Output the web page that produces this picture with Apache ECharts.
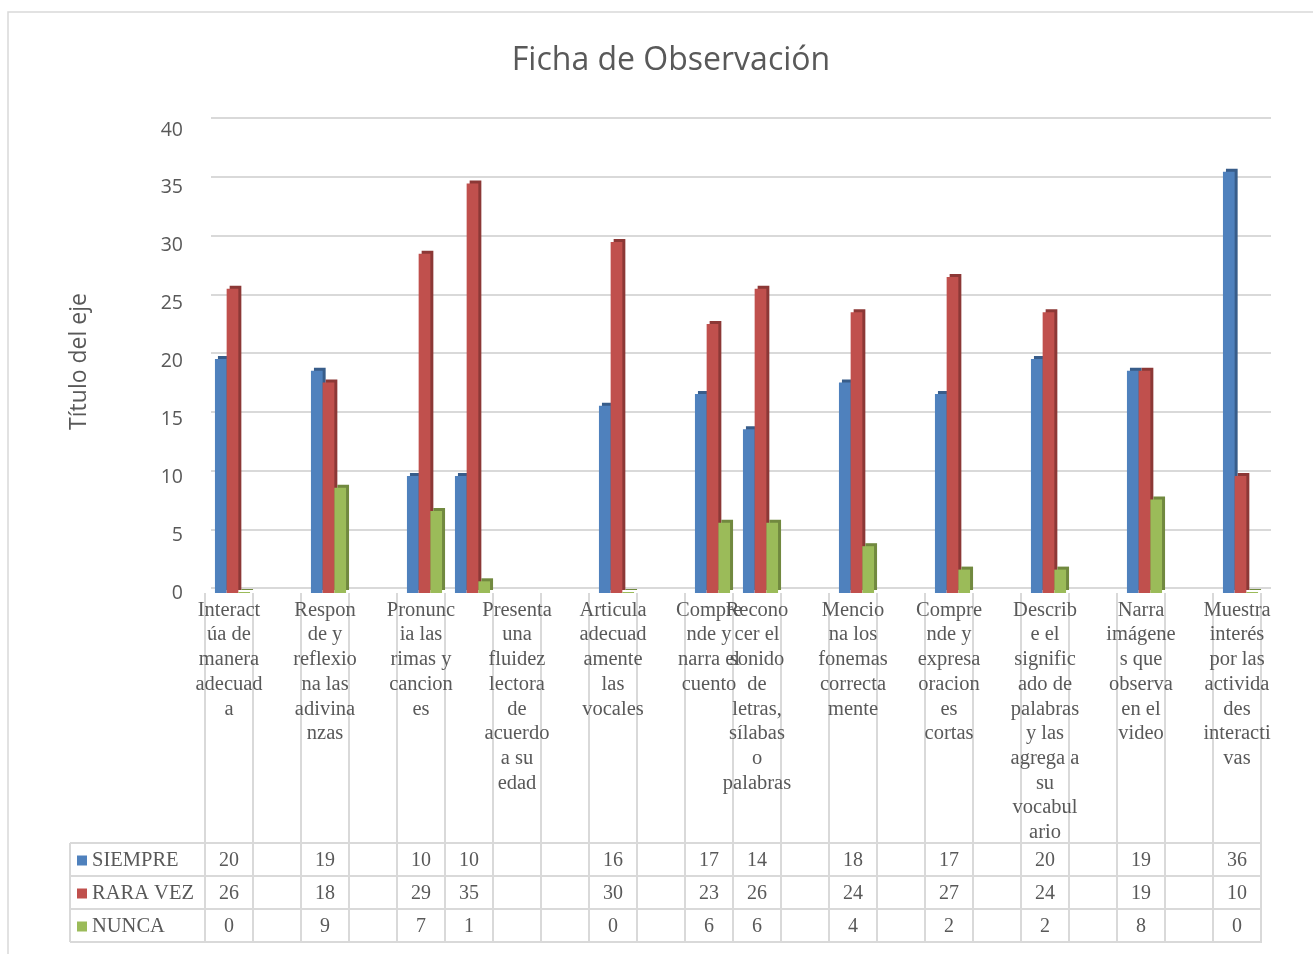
<!DOCTYPE html>
<html>
<head>
<meta charset="utf-8">
<script src="https://cdn.jsdelivr.net/npm/echarts@6/dist/echarts.min.js"></script>
<style>
  html, body { margin: 0; padding: 0; background: #fff; }
  #chart { width: 1313px; height: 954px; }
</style>
</head>
<body>
<div id="chart"></div>
<script>
// category slots as laid out in the original sheet (blank slots kept)
const categories = [
  "Interact\núa de\nmanera\nadecuad\na", "",
  "Respon\nde y\nreflexio\nna las\nadivina\nnzas", "",
  "Pronunc\nia las\nrimas y\ncancion\nes", "",
  "Presenta\nuna\nfluidez\nlectora\nde\nacuerdo\na su\nedad", "",
  "Articula\nadecuad\namente\nlas\nvocales", "",
  "Compre\nnde y\nnarra el\ncuento",
  "Recono\ncer el\nsonido\nde\nletras,\nsílabas\no\npalabras", "",
  "Mencio\nna los\nfonemas\ncorrecta\nmente", "",
  "Compre\nnde y\nexpresa\noracion\nes\ncortas", "",
  "Describ\ne el\nsignific\nado de\npalabras\ny las\nagrega a\nsu\nvocabul\nario", "",
  "Narra\nimágene\ns que\nobserva\nen el\nvideo", "",
  "Muestra\ninterés\npor las\nactivida\ndes\ninteracti\nvas",
];

const siempre = [20, null, 19, null, 10, 10, null, null, 16, null, 17, 14, null, 18, null, 17, null, 20, null, 19, null, 36];
const raraVez = [26, null, 18, null, 29, 35, null, null, 30, null, 23, 26, null, 24, null, 27, null, 24, null, 19, null, 10];
const nunca   = [0, null, 9, null, 7, 1, null, null, 0, null, 6, 6, null, 4, null, 2, null, 2, null, 8, null, 0];

const yTicks = { min: 0, max: 40, interval: 5 };

const GRAY = "#595959";
const LINE = "#d9d9d9";
const SERIF = "'Liberation Serif', 'Times New Roman', serif";
const SANS = "'Open Sans', 'Noto Sans', sans-serif";

const chart = echarts.init(document.getElementById("chart"));

function rowAxis(values, offset) {
  return {
    type: "category",
    gridIndex: 2,
    position: "bottom",
    offset: offset,
    data: categories,
    axisLine: { show: false },
    axisTick: { show: false },
    axisLabel: {
      interval: 0,
      margin: 19,
      verticalAlign: "middle",
      color: GRAY,
      fontFamily: SERIF,
      fontSize: 20,
      formatter: (v, i) => (values[i] == null ? "" : String(values[i])),
    },
  };
}

function barSeries(name, values, color, side) {
  return {
    name: name,
    type: "bar",
    xAxisIndex: 1,
    yAxisIndex: 1,
    data: values.map((v) => (v == null ? "-" : v)),
    barWidth: 11.7,
    barGap: "0%",
    barMinHeight: 1,
    itemStyle: {
      color: color,
      shadowColor: side,
      shadowBlur: 0,
      shadowOffsetX: 3,
      shadowOffsetY: -3,
    },
  };
}

function legendRow(name, top) {
  return {
    data: [name],
    left: 77,
    top: top,
    padding: 0,
    icon: "rect",
    itemWidth: 10,
    itemHeight: 10,
    textStyle: { color: GRAY, fontFamily: SERIF, fontSize: 20.5 },
  };
}

chart.setOption({
  animation: false,
  title: {
    text: "Ficha de Observación",
    left: 666,
    textAlign: "center",
    top: 40,
    textStyle: { color: GRAY, fontFamily: SANS, fontSize: 32, fontWeight: "normal" },
  },
  legend: [
    legendRow("SIEMPRE", 850),
    legendRow("RARA VEZ", 883),
    legendRow("NUNCA", 916),
  ],
  grid: [
    // back wall (gridlines)
    { left: 211, right: 42, top: 118, bottom: 366 },
    // bars
    { left: 208.5, right: 48.5, top: 125, bottom: 361 },
    // value labels, category labels and data table
    { left: 205, right: 52, top: 130, bottom: 361 },
  ],
  xAxis: [
    { type: "category", gridIndex: 0, data: categories, show: false },
    { type: "category", gridIndex: 1, data: categories, show: false },
    {
      type: "category",
      gridIndex: 2,
      data: categories,
      axisLine: { show: false },
      axisTick: { show: true, interval: 0, length: 349, lineStyle: { color: LINE, width: 2 } },
      axisLabel: {
        interval: 0,
        margin: 5,
        color: GRAY,
        fontFamily: SERIF,
        fontSize: 20.5,
        lineHeight: 24.7,
      },
    },
    rowAxis(siempre, 249),
    rowAxis(raraVez, 282),
    rowAxis(nunca, 315),
  ],
  yAxis: [
    {
      type: "value",
      gridIndex: 0,
      ...yTicks,
      axisLabel: { show: false },
      axisLine: { show: false },
      axisTick: { show: false },
      splitLine: { lineStyle: { color: LINE, width: 2 } },
    },
    { type: "value", gridIndex: 1, ...yTicks, show: false, splitLine: { show: false } },
    {
      type: "value",
      gridIndex: 2,
      ...yTicks,
      name: "Título del eje",
      nameLocation: "middle",
      nameRotate: 90,
      nameGap: 114,
      nameTextStyle: { color: GRAY, fontFamily: SANS, fontSize: 23 },
      axisLine: { show: false },
      axisTick: { show: false },
      splitLine: { show: false },
      axisLabel: { color: GRAY, fontFamily: SANS, fontSize: 19.5, margin: 22 },
    },
  ],
  graphic: [
    {
      type: "rect",
      silent: true,
      shape: { x: 8, y: 12, width: 1400, height: 1000 },
      style: { fill: "none", stroke: LINE, lineWidth: 1.5 },
    },
    ...[843, 876, 909, 942].map((y) => ({
      type: "line",
      silent: true,
      shape: { x1: 70, y1: y, x2: 1262, y2: y },
      style: { stroke: LINE, lineWidth: 2 },
    })),
    {
      type: "line",
      silent: true,
      shape: { x1: 70, y1: 843, x2: 70, y2: 942 },
      style: { stroke: LINE, lineWidth: 2 },
    },
  ],
  series: [
    barSeries("SIEMPRE", siempre, "#4F81BD", "#385D8A"),
    barSeries("RARA VEZ", raraVez, "#C0504D", "#8C3836"),
    barSeries("NUNCA", nunca, "#9BBB59", "#71893F"),
  ],
});

window.addEventListener("resize", chart.resize);
</script>
</body>
</html>
